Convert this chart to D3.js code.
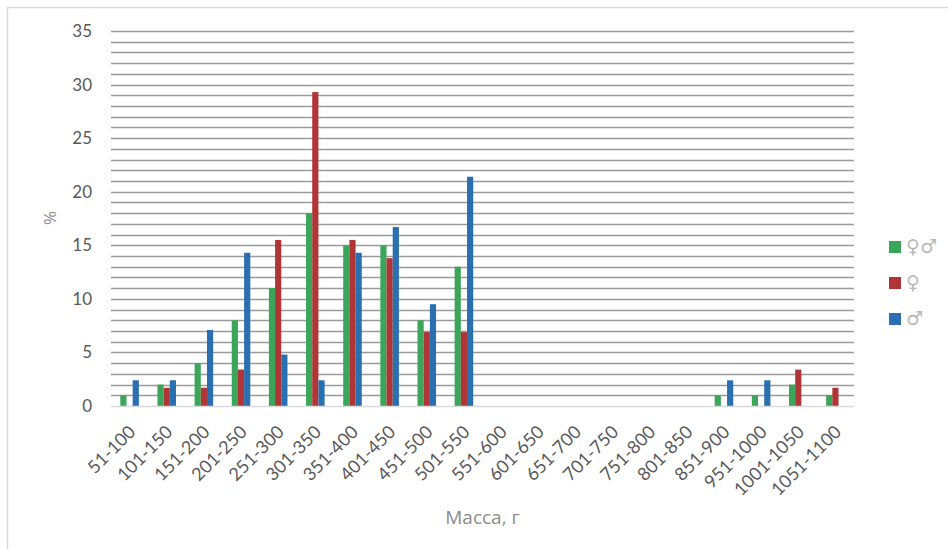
<!DOCTYPE html>
<html>
<head>
<meta charset="utf-8">
<script src="https://cdn.jsdelivr.net/npm/d3@7"></script>
<style>
  html, body { margin: 0; padding: 0; background: #fff; }
  svg { display: block; }
</style>
</head>
<body>
<svg id="chart" width="948" height="549"></svg>
<script>
// Mass classes (g)
const categories = ["51-100","101-150","151-200","201-250","251-300","301-350","351-400","401-450","451-500","501-550","551-600","601-650","651-700","701-750","751-800","801-850","851-900","951-1000","1001-1050","1051-1100"];
// Share of individuals per class, %
const bothSexes = [1, 2, 4, 8, 11, 18, 15, 15, 8, 13, 0, 0, 0, 0, 0, 0, 1, 1, 2, 1];
const females   = [0, 1.7, 1.7, 3.4, 15.5, 29.3, 15.5, 13.8, 6.9, 6.9, 0, 0, 0, 0, 0, 0, 0, 0, 3.4, 1.7];
const males     = [2.4, 2.4, 7.1, 14.3, 4.8, 2.4, 14.3, 16.7, 9.5, 21.4, 0, 0, 0, 0, 0, 0, 2.4, 2.4, 0, 0];
const seriesNames = ["♀♂", "♀", "♂"];
const seriesColors = ["#3ba65a", "#b03536", "#2a6fb0"];
const yTicks = [0, 5, 10, 15, 20, 25, 30, 35];

const svg = d3.select("#chart");
const W = 948, H = 549;
const m = { left: 111, right: 94, top: 31, bottom: 143 };
const plotW = W - m.left - m.right;
const plotH = H - m.top - m.bottom;

// Outer chart frame
svg.append("rect")
  .attr("x", 7.5).attr("y", 7.5)
  .attr("width", W).attr("height", H)
  .attr("fill", "none").attr("stroke", "#d9d9d9").attr("stroke-width", 1.5);

const g = svg.append("g").attr("transform", `translate(${m.left},${m.top})`);

const x = d3.scaleBand().domain(categories).range([0, plotW]).paddingInner(0.5).paddingOuter(0.25);
const xs = d3.scaleBand().domain(d3.range(3)).range([0, x.bandwidth()]);
const y = d3.scaleLinear().domain([0, 35]).range([plotH, 0]);

// Horizontal gridlines at every unit
g.append("g").selectAll("line")
  .data(d3.range(1, 36))
  .join("line")
  .attr("x1", 0).attr("x2", plotW)
  .attr("y1", d => Math.round(y(d)) + 0.5).attr("y2", d => Math.round(y(d)) + 0.5)
  .attr("stroke", "#9a9a9a").attr("stroke-width", 1.3);

// Bars
const series = [bothSexes, females, males];
const groups = g.append("g").selectAll("g")
  .data(categories)
  .join("g")
  .attr("transform", d => `translate(${x(d)},0)`);
groups.selectAll("rect")
  .data((d, i) => series.map((s, k) => ({ k, v: s[i] })))
  .join("rect")
  .attr("x", d => xs(d.k))
  .attr("width", xs.bandwidth())
  .attr("y", d => y(d.v))
  .attr("height", d => plotH - y(d.v))
  .attr("fill", d => seriesColors[d.k]);

// Baseline
g.append("line")
  .attr("x1", 0).attr("x2", plotW)
  .attr("y1", plotH + 0.5).attr("y2", plotH + 0.5)
  .attr("stroke", "#d9d9d9").attr("stroke-width", 1.5);

// Y axis labels
const yAxis = g.append("g")
  .call(d3.axisLeft(y).tickValues(yTicks).tickSize(0).tickPadding(19));
yAxis.select(".domain").remove();
yAxis.selectAll("text")
  .attr("font-family", "Lato, 'Open Sans', sans-serif")
  .attr("font-size", 17).attr("fill", "#595959");

// X axis labels, rotated
const xAxis = g.append("g")
  .attr("transform", `translate(0,${plotH})`)
  .call(d3.axisBottom(x).tickSize(0).tickPadding(0));
xAxis.select(".domain").remove();
xAxis.selectAll("text")
  .attr("font-family", "Lato, 'Open Sans', sans-serif")
  .attr("font-size", 18).attr("fill", "#595959")
  .attr("text-anchor", "end")
  .attr("dy", 0)
  .attr("transform", "translate(7,27) rotate(-45)");

// Axis titles
svg.append("text")
  .attr("x", m.left + plotW / 2).attr("y", 524)
  .attr("text-anchor", "middle")
  .attr("font-family", "'Open Sans', Lato, sans-serif")
  .attr("font-size", 19).attr("fill", "#8c8c8c")
  .text("Масса, г");
svg.append("text")
  .attr("transform", "translate(56,218) rotate(-90)")
  .attr("text-anchor", "middle")
  .attr("font-family", "'Open Sans', Lato, sans-serif")
  .attr("font-size", 17).attr("fill", "#8c8c8c")
  .text("%");

// Legend
const legend = svg.append("g").attr("transform", "translate(889,241)");
const items = legend.selectAll("g")
  .data(seriesNames)
  .join("g")
  .attr("transform", (d, i) => `translate(0,${i * 36})`);
items.append("rect")
  .attr("width", 12).attr("height", 12)
  .attr("fill", (d, i) => seriesColors[i]);
items.append("text")
  .attr("x", 17).attr("y", 12)
  .attr("font-family", "'DejaVu Sans', sans-serif")
  .attr("font-size", 19).attr("fill", "#b8b8b8")
  .text(d => d);
</script>
</body>
</html>
